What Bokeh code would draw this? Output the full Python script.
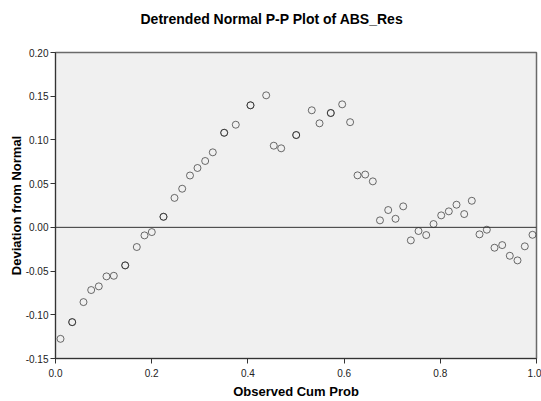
from bokeh.plotting import figure
from bokeh.models import Span, FixedTicker, PrintfTickFormatter, Range1d, Title
from bokeh.embed import file_html
from bokeh.resources import INLINE

# Observed cumulative probability and deviation from normal (tied points repeated)
obs_cum_prob = [0.0104, 0.0347, 0.0347, 0.0582, 0.0742, 0.0900, 0.1060, 0.1212,
                0.1449, 0.1449, 0.1690, 0.1850, 0.2002, 0.2245, 0.2245, 0.2474,
                0.2634, 0.2796, 0.2952, 0.3112, 0.3270, 0.3507, 0.3507, 0.3748,
                0.4054, 0.4054, 0.4380, 0.4538, 0.4692, 0.5004, 0.5004, 0.5328,
                0.5489, 0.5723, 0.5723, 0.5960, 0.6125, 0.6279, 0.6439, 0.6597,
                0.6746, 0.6917, 0.7069, 0.7229, 0.7387, 0.7547, 0.7707, 0.7859,
                0.8019, 0.8177, 0.8337, 0.8497, 0.8655, 0.8815, 0.8967, 0.9127,
                0.9287, 0.9445, 0.9605, 0.9757, 0.9917]
deviation = [-0.1275, -0.1084, -0.1084, -0.0855, -0.0717, -0.0675, -0.0561, -0.0554,
             -0.0435, -0.0435, -0.0225, -0.0092, -0.0054, 0.0121, 0.0121, 0.0337,
             0.0442, 0.0593, 0.0679, 0.0759, 0.0858, 0.1082, 0.1082, 0.1174,
             0.1396, 0.1396, 0.1510, 0.0934, 0.0904, 0.1056, 0.1056, 0.1339,
             0.1190, 0.1308, 0.1308, 0.1407, 0.1203, 0.0595, 0.0604, 0.0526,
             0.0080, 0.0198, 0.0098, 0.0240, -0.0149, -0.0042, -0.0088, 0.0038,
             0.0137, 0.0183, 0.0259, 0.0152, 0.0304, -0.0080, -0.0027, -0.0233,
             -0.0203, -0.0325, -0.0378, -0.0217, -0.0085]

x_ticks = [0.0, 0.2, 0.4, 0.6, 0.8, 1.0]
y_ticks = [-0.15, -0.10, -0.05, 0.0, 0.05, 0.10, 0.15, 0.20]

title_text = "Detrended Normal P-P Plot of ABS_Res"
FONT = "Liberation Sans"

p = figure(width=541, height=401, output_backend="svg", toolbar_location=None,
           x_range=Range1d(0, 1), y_range=Range1d(-0.15, 0.20),
           title=title_text,
           min_border_left=55, min_border_right=5, min_border_top=52, min_border_bottom=43)

p.background_fill_color = "#f0f0f0"
p.border_fill_color = "white"
p.outline_line_color = "#6a6a6a"
p.outline_line_width = 1.5
p.grid.visible = False

p.title.text_font = FONT
p.title.text_font_size = "14px"
p.title.text_font_style = "bold"
p.title.text_color = "black"
p.title.align = "left"
p.title.offset = 85
p.title.standoff = 16

# blank spacer between the title and the plot frame
p.add_layout(Title(text=" ", text_font=FONT, text_font_size="10px", standoff=5), "above")

for ax in (p.xaxis[0], p.yaxis[0]):
    ax.axis_line_color = "#333333"
    ax.axis_line_width = 1
    ax.major_tick_line_color = "#333333"
    ax.major_tick_out = 5
    ax.major_tick_in = 0
    ax.minor_tick_line_color = None
    ax.major_label_text_font = FONT
    ax.major_label_text_font_size = "10px"
    ax.major_label_text_color = "#222222"
    ax.axis_label_text_font = FONT
    ax.axis_label_text_font_size = "13px"
    ax.axis_label_text_font_style = "bold"
    ax.axis_label_text_color = "black"

p.xaxis.ticker = FixedTicker(ticks=x_ticks)
p.xaxis.formatter = PrintfTickFormatter(format="%.1f")
p.xaxis.axis_label = "Observed Cum Prob"
p.xaxis.major_label_standoff = 5
p.xaxis.axis_label_standoff = 4

p.yaxis.ticker = FixedTicker(ticks=y_ticks)
p.yaxis.formatter = PrintfTickFormatter(format="%.2f")
p.yaxis.axis_label = "Deviation from Normal"
p.yaxis.major_label_standoff = 2
p.yaxis.axis_label_standoff = -1

p.add_layout(Span(location=0, dimension="width", line_color="#333333", line_width=1))

p.scatter(obs_cum_prob, deviation, marker="circle", size=7, fill_color=None,
          line_color="#222222", line_alpha=0.65, line_width=1)

open("out.html", "w").write(file_html(p, INLINE))
